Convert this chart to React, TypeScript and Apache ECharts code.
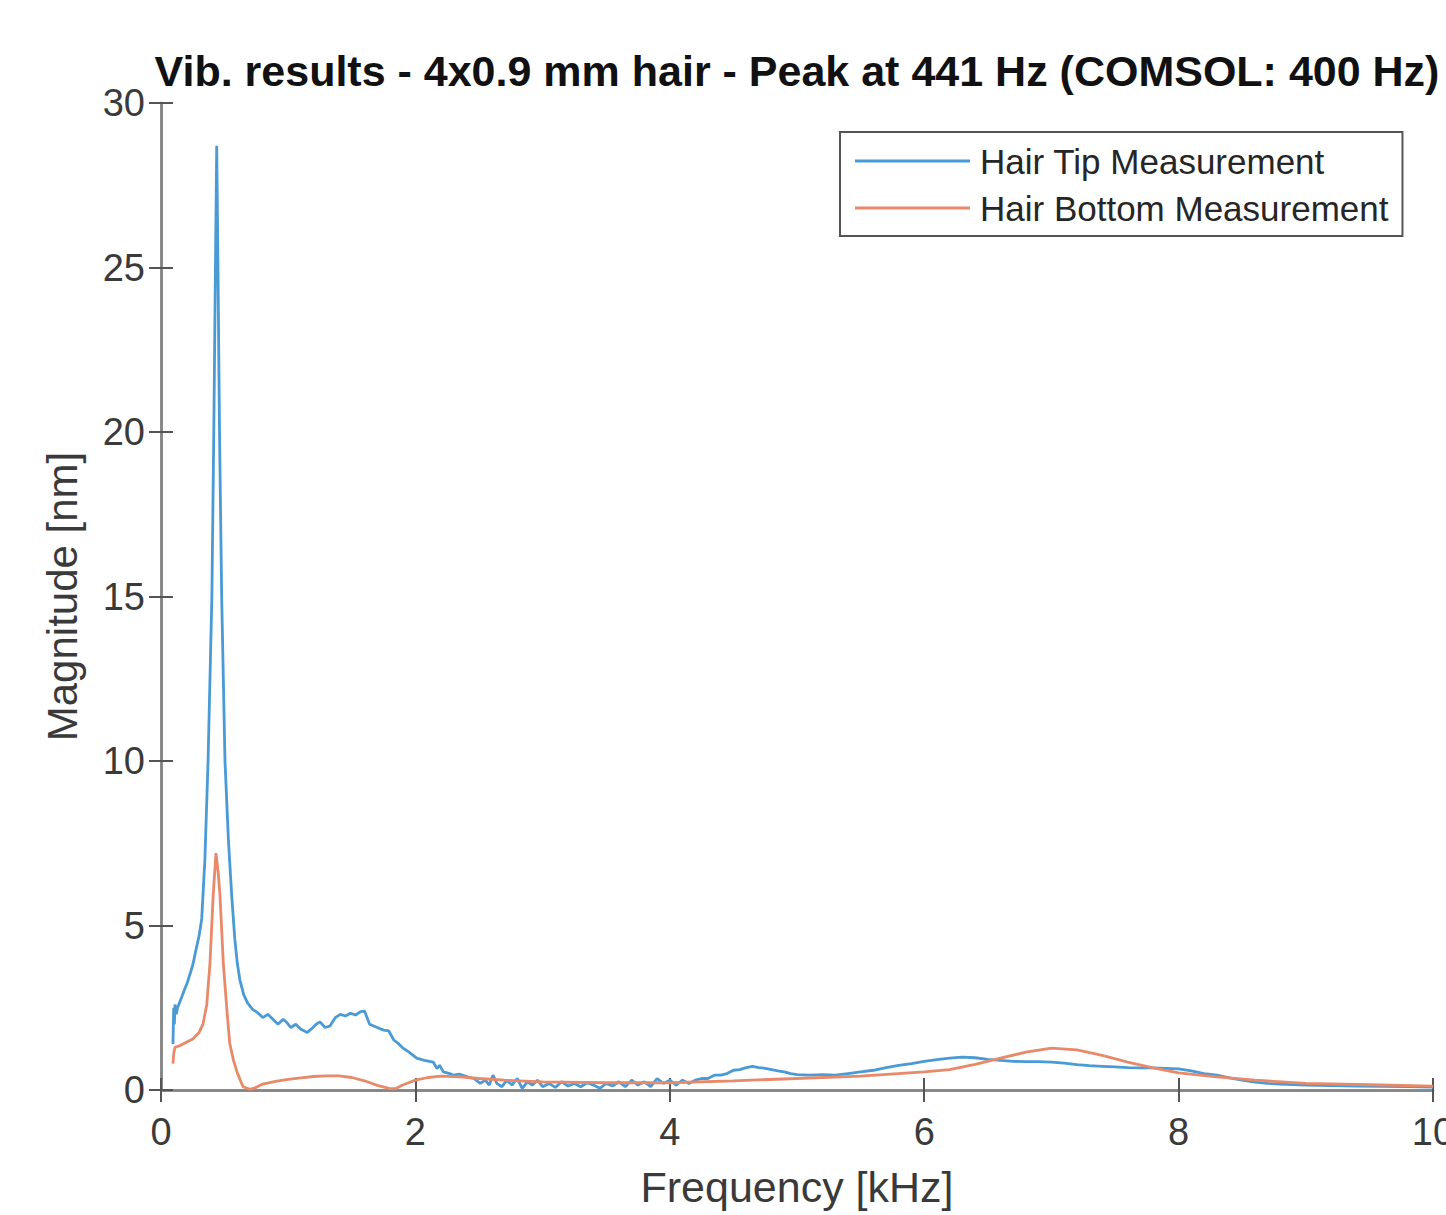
import React, { useEffect, useRef } from "react";
import * as echarts from "echarts";

const titleText = "Vib. results - 4x0.9 mm hair - Peak at 441 Hz (COMSOL: 400 Hz)";
const xTicks = [0, 2, 4, 6, 8, 10];
const yTicks = [0, 5, 10, 15, 20, 25, 30];

const tipFreq = [
  0.094, 0.1, 0.105, 0.11, 0.12, 0.13, 0.15, 0.18, 0.21, 0.25, 0.28, 0.3, 0.32, 0.345, 0.37, 0.385, 0.4, 0.415,
  0.428, 0.438, 0.448, 0.46, 0.477, 0.49, 0.503, 0.53, 0.556, 0.58, 0.6, 0.62, 0.65, 0.68, 0.72, 0.76, 0.8,
  0.84, 0.88, 0.92, 0.96, 0.99, 1.02, 1.06, 1.1, 1.15, 1.18, 1.22, 1.25, 1.29, 1.33, 1.37, 1.41, 1.45, 1.49,
  1.53, 1.57, 1.6, 1.64, 1.7, 1.75, 1.79, 1.83, 1.87, 1.9, 1.95, 2.01, 2.07, 2.14, 2.17, 2.19, 2.22, 2.27,
  2.3, 2.35, 2.41, 2.46, 2.51, 2.55, 2.58, 2.61, 2.64, 2.68, 2.72, 2.76, 2.8, 2.84, 2.88, 2.92, 2.96, 3.0,
  3.05, 3.1, 3.15, 3.2, 3.25, 3.3, 3.35, 3.4, 3.45, 3.5, 3.55, 3.6, 3.65, 3.7, 3.75, 3.8, 3.85, 3.9, 3.95,
  4.0, 4.05, 4.1, 4.15, 4.2, 4.25, 4.3, 4.35, 4.4, 4.45, 4.5, 4.55, 4.6, 4.65, 4.7, 4.75, 4.8, 4.85, 4.9,
  4.95, 5.0, 5.1, 5.2, 5.3, 5.4, 5.5, 5.6, 5.7, 5.8, 5.9, 6.0, 6.1, 6.2, 6.3, 6.4, 6.5, 6.6, 6.7, 6.8, 6.9,
  7.0, 7.1, 7.2, 7.3, 7.4, 7.5, 7.6, 7.7, 7.8, 7.9, 8.0, 8.1, 8.2, 8.3, 8.4, 8.5, 8.6, 8.7, 8.8, 9.0, 9.2,
  9.4, 9.6, 9.8, 10.0,
];
const tipMag = [
  1.4, 2.5, 2.0, 2.6, 2.3, 2.5, 2.7, 3.0, 3.3, 3.8, 4.35, 4.7, 5.2, 7.0, 10.0, 12.5, 15.0, 20.0,
  25.0, 28.7, 25.0, 20.0, 15.0, 12.5, 10.0, 7.6, 5.9, 4.6, 3.85, 3.35, 2.9, 2.65, 2.45, 2.35, 2.2,
  2.3, 2.15, 2.0, 2.15, 2.05, 1.9, 2.0, 1.85, 1.75, 1.85, 2.0, 2.07, 1.9, 1.95, 2.2, 2.3, 2.25, 2.33,
  2.28, 2.38, 2.4, 2.0, 1.9, 1.82, 1.8, 1.52, 1.4, 1.28, 1.15, 0.97, 0.9, 0.85, 0.65, 0.75, 0.55, 0.5,
  0.45, 0.48, 0.4, 0.35, 0.2, 0.3, 0.15, 0.45, 0.2, 0.1, 0.3, 0.15, 0.35, 0.05, 0.25, 0.15, 0.3, 0.1,
  0.2, 0.08, 0.25, 0.12, 0.2, 0.1, 0.22, 0.15, 0.05, 0.2, 0.12, 0.25, 0.1, 0.3, 0.15, 0.25, 0.1, 0.35, 0.2,
  0.3, 0.15, 0.3, 0.2, 0.3, 0.35, 0.35, 0.45, 0.45, 0.5, 0.6, 0.62, 0.68, 0.72, 0.68, 0.66, 0.62, 0.58, 0.55,
  0.5, 0.47, 0.45, 0.47, 0.45, 0.5, 0.55, 0.6, 0.68, 0.75, 0.8, 0.87, 0.92, 0.97, 1.0, 0.98, 0.93, 0.9, 0.87, 0.86, 0.86,
  0.85, 0.82, 0.77, 0.74, 0.72, 0.7, 0.68, 0.67, 0.67, 0.66, 0.64, 0.58, 0.5, 0.45, 0.37, 0.3, 0.24, 0.2, 0.18, 0.15, 0.13,
  0.12, 0.11, 0.1, 0.09,
];

const bottomFreq = [
  0.094, 0.1, 0.11, 0.15, 0.2, 0.25, 0.3, 0.33, 0.36, 0.385, 0.41, 0.432, 0.45, 0.464, 0.49, 0.52, 0.54,
  0.57, 0.6, 0.645, 0.7, 0.75, 0.8, 0.9, 1.0, 1.1, 1.2, 1.3, 1.4, 1.5, 1.6, 1.7, 1.8, 1.85, 1.9, 2.0, 2.1,
  2.2, 2.35, 2.5, 2.7, 3.0, 3.5, 4.0, 4.5, 5.0, 5.5, 6.0, 6.2, 6.4, 6.6, 6.8, 7.0, 7.2, 7.4, 7.6, 7.8, 8.0,
  8.3, 8.6, 9.0, 9.5, 10.0,
];
const bottomMag = [
  0.8, 1.1, 1.3, 1.35, 1.45, 1.55, 1.75, 2.0, 2.6, 3.85, 5.9, 7.2, 6.6, 5.9, 3.85, 2.34, 1.43,
  0.9, 0.52, 0.1, 0.02, 0.08, 0.18, 0.26, 0.32, 0.37, 0.41, 0.43, 0.43, 0.38, 0.28, 0.14, 0.04, 0.05, 0.15, 0.3, 0.38,
  0.42, 0.4, 0.35, 0.3, 0.25, 0.22, 0.22, 0.28, 0.35, 0.42, 0.55, 0.62, 0.78, 0.97, 1.15, 1.27, 1.22, 1.05, 0.85, 0.67, 0.52,
  0.4, 0.3, 0.2, 0.16, 0.12,
];

const FONT = "Liberation Sans, Arial, sans-serif";
const AXIS_GRAY = "#858585";
const TEXT_GRAY = "#3a3a3a";

export default function App() {
  const ref = useRef<HTMLDivElement>(null);
  useEffect(() => {
    if (!ref.current) return;
    const chart = echarts.init(ref.current, undefined, { renderer: "svg" });
    const tipData = tipFreq.map((f, i) => [f, tipMag[i]]);
    const bottomData = bottomFreq.map((f, i) => [f, bottomMag[i]]);
    const xMin = xTicks[0];
    const xMax = xTicks[xTicks.length - 1];
    const yMin = yTicks[0];
    const yMax = yTicks[yTicks.length - 1];
    const tickStyle = { show: true, inside: true, length: 12, lineStyle: { color: "#555", width: 2 } };
    const lineStyle = { show: true, lineStyle: { color: AXIS_GRAY, width: 2.5 } };
    chart.setOption({
      animation: false,
      backgroundColor: "#ffffff",
      title: {
        text: titleText,
        left: 797,
        textAlign: "center",
        top: 49,
        padding: 0,
        textStyle: { fontFamily: FONT, fontSize: 43, fontWeight: "bold", color: "#111" },
      },
      grid: {
        left: 161,
        right: 13,
        top: 103,
        bottom: 125,
        containLabel: false,
        outerBoundsMode: "none",
      },
      legend: {
        left: 840,
        top: 132,
        orient: "vertical",
        padding: [11, 14, 10, 15],
        itemGap: 11,
        itemWidth: 115,
        itemHeight: 3,
        icon: "rect",
        borderColor: "#555",
        borderWidth: 2,
        backgroundColor: "#fff",
        textStyle: { fontFamily: FONT, fontSize: 35, lineHeight: 36, color: "#262626", padding: [0, 0, 0, 5] },
        data: ["Hair Tip Measurement", "Hair Bottom Measurement"],
      },
      xAxis: [
        {
          type: "value",
          min: xMin,
          max: xMax,
          interval: 2,
          position: "bottom",
          name: "Frequency [kHz]",
          nameLocation: "middle",
          nameGap: 75,
          nameTextStyle: { fontFamily: FONT, fontSize: 43, color: TEXT_GRAY },
          axisLine: lineStyle,
          axisTick: tickStyle,
          axisLabel: { fontFamily: FONT, fontSize: 38, color: TEXT_GRAY, margin: 23 },
          splitLine: { show: false },
        },
        {
          type: "value",
          min: xMin,
          max: xMax,
          interval: 2,
          position: "top",
          axisLine: lineStyle,
          axisTick: tickStyle,
          axisLabel: { show: false },
          splitLine: { show: false },
        },
      ],
      yAxis: [
        {
          type: "value",
          min: yMin,
          max: yMax,
          interval: 5,
          position: "left",
          name: "Magnitude [nm]",
          nameLocation: "middle",
          nameGap: 78,
          nameTextStyle: { fontFamily: FONT, fontSize: 42, color: TEXT_GRAY },
          axisLine: lineStyle,
          axisTick: tickStyle,
          axisLabel: { fontFamily: FONT, fontSize: 38, color: TEXT_GRAY, margin: 16 },
          splitLine: { show: false },
        },
        {
          type: "value",
          min: yMin,
          max: yMax,
          interval: 5,
          position: "right",
          axisLine: lineStyle,
          axisTick: tickStyle,
          axisLabel: { show: false },
          splitLine: { show: false },
        },
      ],
      series: [
        {
          name: "Hair Tip Measurement",
          type: "line",
          data: tipData,
          showSymbol: false,
          color: "#4a9ad6",
          lineStyle: { color: "#4a9ad6", width: 2.8 },
          z: 2,
        },
        {
          name: "Hair Bottom Measurement",
          type: "line",
          data: bottomData,
          showSymbol: false,
          color: "#e8896a",
          lineStyle: { color: "#e8896a", width: 2.8 },
          z: 3,
        },
      ],
    });
    return () => chart.dispose();
  }, []);
  return (
    <div
      ref={ref}
      style={{ position: "absolute", left: 0, top: 0, width: 1446, height: 1215, background: "#fff" }}
    />
  );
}
